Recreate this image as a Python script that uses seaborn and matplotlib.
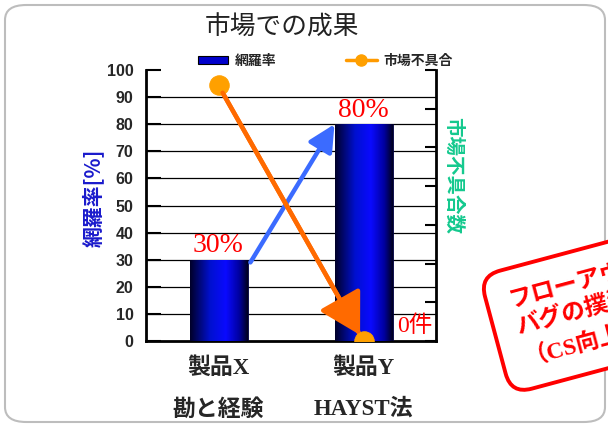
import numpy as np
import pandas as pd
import matplotlib
matplotlib.use("Agg")
import matplotlib.pyplot as plt
import seaborn as sns
from matplotlib.patches import Patch, FancyBboxPatch
from matplotlib.lines import Line2D
from matplotlib.colors import LinearSegmentedColormap

# ---- data ----
products = ["製品X", "製品Y"]
methods = ["勘と経験", "HAYST法"]
coverage = [30, 80]          # 網羅率 [%]
defects = [66, 0]            # 市場不具合数
coverage_labels = ["30%", "80%"]
defect_label = "0件"
title = "市場での成果"
callout = "フローアウト\nバグの撲滅\n（CS向上）"

sns.set_theme(style="white")
CJK = ["Noto Sans CJK JP", "DejaVu Sans"]
SERIF_CJK = ["Liberation Serif", "Noto Sans CJK JP"]
plt.rcParams["font.family"] = CJK

fig = plt.figure(figsize=(6.08, 4.26), dpi=100)
fig.patch.set_facecolor("white")

# slide frame
frame = FancyBboxPatch((5 / 608, 4 / 426), 600 / 608, 417 / 426,
                       boxstyle="round,pad=0,rounding_size=0.035",
                       transform=fig.transFigure, fc="white", ec="#BDBDBD",
                       lw=1.5, zorder=-5)
fig.patches.append(frame)

ax = fig.add_axes([146 / 608, 85 / 426, 290 / 608, 271 / 426])
ax.set_facecolor("none")

df = pd.DataFrame({"product": products, "coverage": coverage})
sns.barplot(data=df, x="product", y="coverage", ax=ax, width=0.4,
            color="#0000CC", edgecolor="#000033", linewidth=0.6,
            saturation=1, zorder=3)

# cylinder-like shading on the bars
shade = LinearSegmentedColormap.from_list(
    "cyl", [(0.0, "#000028"), (0.35, "#0010D0"), (0.62, "#0A0AFF"),
            (0.85, "#0000A0"), (1.0, "#00001E")])
grad = np.linspace(0, 1, 256).reshape(1, -1)
for p in ax.patches:
    x0, w, h = p.get_x(), p.get_width(), p.get_height()
    im = ax.imshow(grad, cmap=shade, aspect="auto",
                   extent=[x0, x0 + w, 0, h], zorder=3.5)
    im.set_clip_path(p)

ax.set_xlim(-0.5, 1.5)
ax.set_ylim(0, 100)
ax.set_yticks(np.arange(0, 101, 10))
ax.set_xticks(range(len(products)))
ax.set_xticklabels([f"{p}\n{m}" for p, m in zip(products, methods)],
                   family=SERIF_CJK, fontsize=16.5, fontweight="bold",
                   linespacing=2.15)
ax.tick_params(axis="x", length=0, pad=12)
ax.set_xticks([0.5], minor=True)
ax.tick_params(axis="x", which="minor", direction="in", length=4,
               width=1.2, color="black")
ax.tick_params(axis="y", direction="in", length=11, width=1.5,
               color="black", labelsize=11.5, pad=9)
for lab in ax.get_yticklabels():
    lab.set_fontweight("bold")
    lab.set_family(["Liberation Sans", "DejaVu Sans"])
ax.set_xlabel("")
ax.set_ylabel("網羅率[%]", color="#1A1ACC", fontsize=15,
              fontweight="bold")
ax.yaxis.set_label_coords(-0.145, 0.53)

ax.grid(axis="y", color="black", lw=0.9, zorder=1)
ax.grid(axis="x", visible=False)
fig.canvas.draw()
ax.yaxis.get_gridlines()[-1].set_visible(False)
ax.yaxis.get_gridlines()[0].set_visible(False)

for side in ("top", "right"):
    ax.spines[side].set_visible(False)
for side in ("left", "bottom"):
    ax.spines[side].set_color("black")
    ax.spines[side].set_linewidth(2)

# secondary axis: market defects
ax2 = ax.twinx()
ax2.set_ylim(0, 70)
ax2.set_yticks(np.arange(0, 71, 10))
ax2.set_yticklabels([])
ax2.tick_params(axis="y", direction="in", length=8, width=1.5, color="black")
for side in ("top", "left", "bottom"):
    ax2.spines[side].set_visible(False)
ax2.spines["right"].set_color("black")
ax2.spines["right"].set_linewidth(2)
ax2.set_ylabel("市場不具合数", color="#14C98E", fontsize=14,
               fontweight="bold", rotation=270)
ax2.yaxis.set_label_coords(1.093, 0.61)

xpos = np.arange(len(products))
sns.lineplot(x=xpos, y=defects, ax=ax2, color="#FF6A00", lw=3.2,
             marker="o", markersize=14, markerfacecolor="#FFA000",
             markeredgecolor="#FFA000", zorder=5, legend=False)
ax2.annotate("", xy=(xpos[1], defects[1]), xytext=(xpos[0], defects[0]),
             xycoords="data", textcoords="data",
             arrowprops=dict(arrowstyle="-|>,head_length=1.4,head_width=0.8",
                             mutation_scale=18, color="#FF6A00", lw=3.2,
                             shrinkA=6, shrinkB=5), zorder=6)

# coverage growth arrow between bar tops
bw = 0.4
ax.annotate("", xy=(xpos[1] - bw / 2, coverage[1]),
            xytext=(xpos[0] + bw / 2 + 0.02, coverage[0] - 1),
            arrowprops=dict(arrowstyle="-|>,head_length=0.9,head_width=0.45",
                            mutation_scale=18, color="#3B6BFF", lw=3.2,
                            shrinkA=0, shrinkB=0), zorder=6)

# value labels
for x, v, t in zip(xpos, coverage, coverage_labels):
    ax.annotate(t, xy=(x, v), xytext=(0, 1), textcoords="offset points",
                ha="center", va="bottom", color="red", fontsize=20,
                family=SERIF_CJK, zorder=7)
ax2.annotate(defect_label, xy=(xpos[1] + bw / 2, defects[1]),
             xytext=(3, 3), textcoords="offset points", ha="left",
             va="bottom", color="red", fontsize=17, family=SERIF_CJK,
             zorder=7)

fig.text(0.463, 0.935, title, ha="center", va="center", fontsize=18.5,
         color="#222222")

handles = [Patch(facecolor="#0000CC", edgecolor="black", lw=0.8),
           Line2D([0], [0], color="#FF9A00", lw=2.5, marker="o",
                  markersize=8, markerfacecolor="#FFA000",
                  markeredgecolor="#FFA000")]
fig.legend(handles, ["網羅率", "市場不具合"], loc="center",
           bbox_to_anchor=(0.535, 0.857), ncol=2, frameon=False,
           prop={"family": CJK, "weight": "bold", "size": 10},
           handlelength=2.2, handleheight=0.6, columnspacing=5,
           handletextpad=0.5)

fig.text(507 / 608, 1 - 292 / 426, callout, ha="left", va="top",
         rotation=15, rotation_mode="anchor", color="red", fontsize=17,
         fontweight="bold", family=SERIF_CJK, linespacing=1.3,
         bbox=dict(boxstyle="round,pad=0.95,rounding_size=0.9",
                   fc="white", ec="red", lw=2.8), zorder=10)

fig.savefig("out.png", dpi=100)
